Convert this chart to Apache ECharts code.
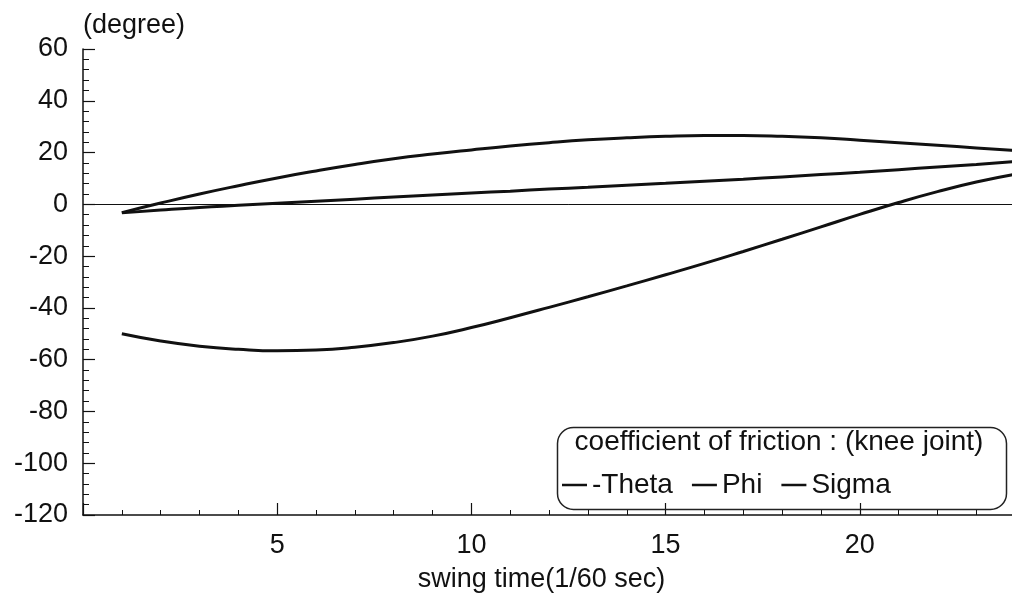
<!DOCTYPE html>
<html>
<head>
<meta charset="utf-8">
<script src="https://cdn.jsdelivr.net/npm/echarts@6/dist/echarts.min.js"></script>
<style>
html,body{margin:0;padding:0;background:#fff;overflow:hidden;width:1012px;height:603px;}
#c{width:1057px;height:603px;}
</style>
</head>
<body>
<div id="c"></div>
<script>
var xs = [1,2,3,4,5,6,7,8,9,10,11,12,13,14,15,16,17,18,19,20,21,22,23,24];
var theta = [-3.2,0.5,4,7.2,10.2,12.9,15.4,17.6,19.4,21,22.5,23.8,24.9,25.7,26.3,26.6,26.6,26.3,25.7,24.8,23.8,22.8,21.8,20.8];
var phi = [-3.3,-2.2,-1.2,-0.4,0.4,1.2,2,2.8,3.6,4.4,5.1,5.9,6.6,7.4,8.1,8.9,9.7,10.6,11.5,12.4,13.4,14.4,15.4,16.5];
var sigma = [-50,-52.8,-54.8,-56,-56.6,-56.3,-55.2,-53.4,-50.9,-47.6,-43.8,-39.8,-35.7,-31.5,-27.2,-22.8,-18.2,-13.5,-8.7,-3.9,0.7,4.9,8.6,11.6];
var seriesNames = ['-Theta','Phi','Sigma'];
var legendTitle = 'coefficient of friction : (knee joint)';
var xName = 'swing time(1/60 sec)';
var yName = '(degree)';

var FONT = "'Liberation Sans', Arial, sans-serif";
var INK = '#111';
function pairs(v){ return xs.map(function(x,i){ return [x, v[i]]; }); }
function mk(name, vals, extra){
  var s = {
    name: name, type: 'line', data: pairs(vals), smooth: true, showSymbol: false,
    lineStyle: {color: INK, width: 3}, itemStyle: {color: INK}, silent: true, z: 3
  };
  if (extra) for (var k in extra) s[k] = extra[k];
  return s;
}
var chart = echarts.init(document.getElementById('c'), null, {renderer: 'canvas'});
chart.setOption({
  animation: false,
  backgroundColor: '#fff',
  textStyle: {fontFamily: FONT, color: INK},
  grid: {left: 83, right: 1, top: 49, bottom: 88, containLabel: false},
  xAxis: [{
    type: 'value', min: 0, max: 25, interval: 5,
    name: xName, nameLocation: 'middle', nameGap: 51,
    nameTextStyle: {fontSize: 27, color: INK, fontFamily: FONT, padding: [0, 54, 0, 0]},
    axisLine: {show: true, onZero: false, lineStyle: {color: INK, width: 1.5}},
    axisTick: {show: true, inside: true, length: 12, lineStyle: {color: INK, width: 1.2}},
    minorTick: {show: true, splitNumber: 5, length: 5, lineStyle: {color: INK, width: 1}},
    axisLabel: {fontSize: 27, color: INK, fontFamily: FONT, margin: 17,
      formatter: function(v){ return (v > 0 && v < 25) ? String(v) : ''; }},
    splitLine: {show: false}
  }, {
    type: 'value', min: 0, max: 25, position: 'top',
    axisLine: {show: true, lineStyle: {color: '#444', width: 1}},
    axisTick: {show: false}, axisLabel: {show: false}, splitLine: {show: false}
  }],
  yAxis: {
    type: 'value', min: -120, max: 60, interval: 20,
    name: yName, nameLocation: 'end', nameGap: 10,
    nameTextStyle: {fontSize: 27, color: INK, fontFamily: FONT, align: 'left', verticalAlign: 'bottom'},
    axisLine: {show: true, onZero: false, lineStyle: {color: INK, width: 1.5}},
    axisTick: {show: true, inside: true, length: 12, lineStyle: {color: INK, width: 1.2}},
    minorTick: {show: true, splitNumber: 5, length: 6, lineStyle: {color: INK, width: 1}},
    axisLabel: {fontSize: 27, color: INK, fontFamily: FONT, margin: 15},
    splitLine: {show: false}
  },
  legend: {
    data: seriesNames, left: 562, top: 471, padding: 0, icon: 'rect',
    itemWidth: 25, itemHeight: 2.5, itemGap: 19,
    textStyle: {fontSize: 28, color: INK, fontFamily: FONT},
    selectedMode: false
  },
  graphic: [{
    type: 'rect', left: 555, top: 425, z: 10,
    shape: {width: 449, height: 82, r: 16},
    style: {fill: 'none', stroke: '#222', lineWidth: 1.5}
  }, {
    type: 'text', z: 10,
    x: 779, y: 442,
    style: {text: legendTitle, font: '28px ' + FONT, fill: INK, align: 'center', verticalAlign: 'middle'}
  }],
  series: [
    mk(seriesNames[0], theta, {
      markLine: {silent: true, symbol: 'none', label: {show: false},
        lineStyle: {color: INK, width: 1, type: 'solid'}, data: [{yAxis: 0}]}
    }),
    mk(seriesNames[1], phi),
    mk(seriesNames[2], sigma)
  ]
});
</script>
</body>
</html>
